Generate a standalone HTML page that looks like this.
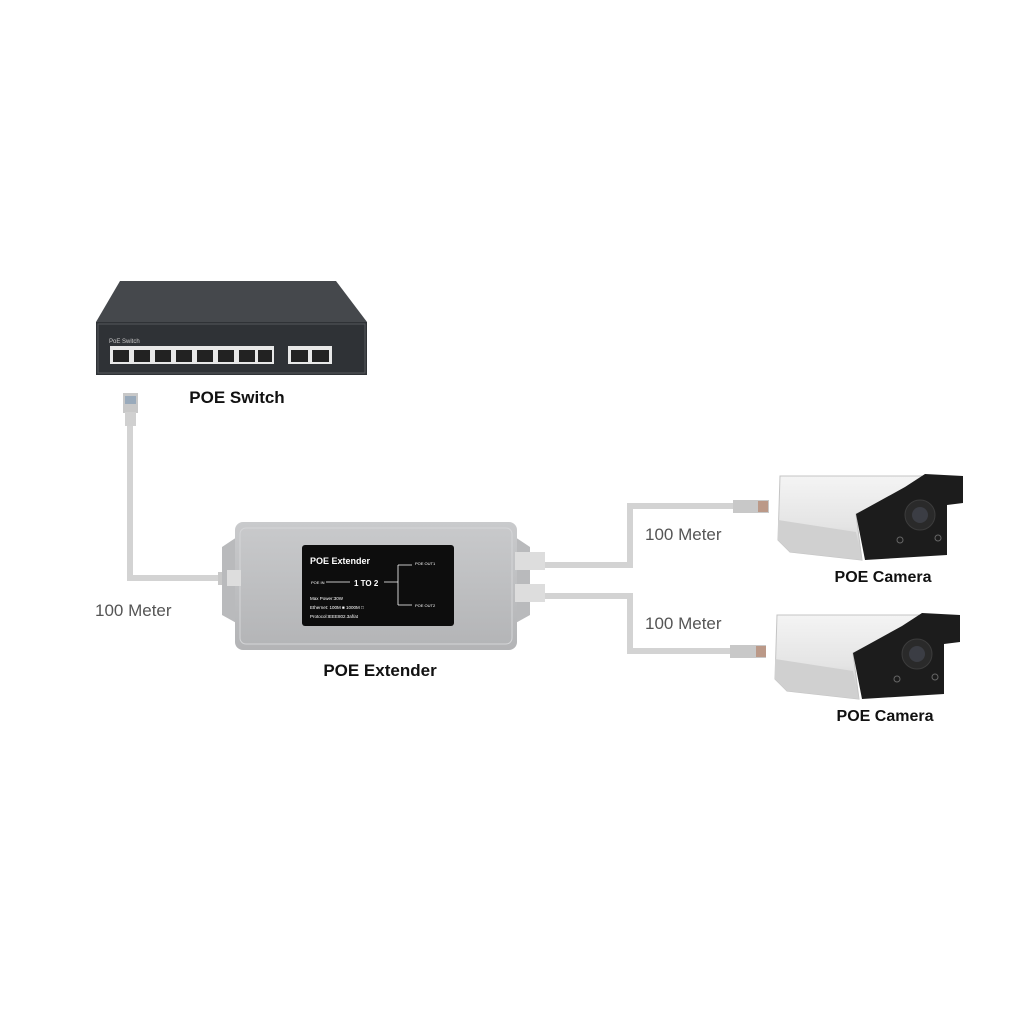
<!DOCTYPE html>
<html><head><style>body{margin:0;background:#fff}svg{display:block}text{font-family:"Liberation Sans",sans-serif}</style></head><body>
<svg width="1024" height="1024" viewBox="0 0 1024 1024" xmlns="http://www.w3.org/2000/svg">
<defs>
<linearGradient id="cam" x1="0" y1="0" x2="0" y2="1"><stop offset="0" stop-color="#f4f4f4"/><stop offset="0.6" stop-color="#e4e4e4"/><stop offset="1" stop-color="#c8c8c8"/></linearGradient>
<linearGradient id="ext" x1="0" y1="0" x2="0" y2="1"><stop offset="0" stop-color="#c9cacc"/><stop offset="1" stop-color="#b3b4b6"/></linearGradient>
</defs>
<!-- switch -->
<polygon points="120,281 336,281 367,322 96,322" fill="#45484c"/>
<rect x="96" y="322" width="271" height="53" fill="#2f3236"/>
<rect x="98" y="324" width="267" height="49" fill="none" stroke="#55585c" stroke-width="1"/>
<text x="109" y="343" font-size="6" fill="#ccc">PoE Switch</text>
<g fill="#e8e8e8">
<rect x="110" y="346" width="164" height="18"/>
<rect x="288" y="346" width="44" height="18"/>
</g>
<g fill="#222">
<rect x="113" y="350" width="16" height="12"/><rect x="134" y="350" width="16" height="12"/><rect x="155" y="350" width="16" height="12"/><rect x="176" y="350" width="16" height="12"/><rect x="197" y="350" width="16" height="12"/><rect x="218" y="350" width="16" height="12"/><rect x="239" y="350" width="16" height="12"/><rect x="258" y="350" width="14" height="12"/>
<rect x="291" y="350" width="17" height="12"/><rect x="312" y="350" width="17" height="12"/>
</g>
<!-- cable left -->
<path d="M130,425 V578 H228" fill="none" stroke="#d3d3d3" stroke-width="6"/>
<rect x="123" y="393" width="15" height="20" fill="#c8c8c8"/>
<rect x="125" y="396" width="11" height="8" fill="#9ab"/>
<rect x="125" y="412" width="11" height="14" fill="#d0d0d0"/>
<rect x="218" y="572" width="14" height="13" fill="#c8c8c8"/>
<!-- right cables -->
<path d="M545,565 H630 V506 H748" fill="none" stroke="#d3d3d3" stroke-width="6"/>
<path d="M545,596 H630 V651 H742" fill="none" stroke="#d3d3d3" stroke-width="6"/>
<rect x="733" y="500" width="36" height="13" fill="#c8c8c8"/>
<rect x="758" y="501" width="10" height="11" fill="#b98"/>
<rect x="730" y="645" width="36" height="13" fill="#c8c8c8"/>
<rect x="756" y="646" width="10" height="11" fill="#b98"/>
<!-- extender -->
<polygon points="222,547 240,535 240,625 222,615" fill="#b9babc"/>
<polygon points="530,547 512,535 512,625 530,615" fill="#b9babc"/>
<rect x="235" y="522" width="282" height="128" rx="8" fill="url(#ext)"/>
<rect x="240" y="528" width="272" height="116" rx="6" fill="none" stroke="#d4d5d7"/>
<rect x="302" y="545" width="152" height="81" rx="3" fill="#0d0d0d"/>
<rect x="515" y="552" width="30" height="18" fill="#ddd"/>
<rect x="515" y="584" width="30" height="18" fill="#ddd"/>
<rect x="227" y="570" width="14" height="16" fill="#ddd"/>
<g fill="#fff">
<text x="310" y="564" font-size="9" font-weight="bold">POE Extender</text>
<text x="311" y="584" font-size="4">POE IN</text>
<text x="354" y="586" font-size="8" font-weight="bold">1 TO 2</text>
<text x="310" y="600" font-size="4.5">Max Power:30W</text>
<text x="310" y="609" font-size="4.5">Ethernet: 100M ■ 1000M □</text>
<text x="310" y="618" font-size="4.5">Protocol:IEEE802.3af/at</text>
<text x="415" y="565" font-size="4">POE OUT1</text>
<text x="415" y="607" font-size="4">POE OUT2</text>
</g>
<path d="M326,582 H350 M384,582 H398 M398,565 V605 M398,565 H412 M398,605 H412" stroke="#fff" stroke-width="0.8" fill="none"/>
<!-- cameras -->
<g id="c1">
<path d="M780,476 H945 L945,492 L905,490 L856,514 L862,560 L790,552 L778,540 Z" fill="url(#cam)" stroke="#c4c4c4" stroke-width="1"/>
<path d="M778,520 L856,532 L862,560 L790,552 L778,540 Z" fill="#d0d0d0"/>
<path d="M856,514 L905,487 L925,474 L963,476 L963,503 L947,505 L947,555 L865,560 Z" fill="#1c1c1c"/>
<circle cx="920" cy="515" r="15" fill="#2a2a2a" stroke="#3c3c3c"/>
<circle cx="920" cy="515" r="8" fill="#3b3d44"/>
<circle cx="900" cy="540" r="3" fill="none" stroke="#666"/>
<circle cx="938" cy="538" r="3" fill="none" stroke="#666"/>
</g>
<use href="#c1" transform="translate(-3,139)"/>
<!-- labels -->
<text x="237" y="403" font-size="17" font-weight="bold" text-anchor="middle" fill="#111">POE Switch</text>
<text x="95" y="616" font-size="17" fill="#555">100 Meter</text>
<text x="380" y="676" font-size="17" font-weight="bold" text-anchor="middle" fill="#111">POE Extender</text>
<text x="645" y="540" font-size="17" fill="#555">100 Meter</text>
<text x="645" y="629" font-size="17" fill="#555">100 Meter</text>
<text x="883" y="582" font-size="16" font-weight="bold" text-anchor="middle" fill="#111">POE Camera</text>
<text x="885" y="721" font-size="16" font-weight="bold" text-anchor="middle" fill="#111">POE Camera</text>
</svg>
</body></html>
